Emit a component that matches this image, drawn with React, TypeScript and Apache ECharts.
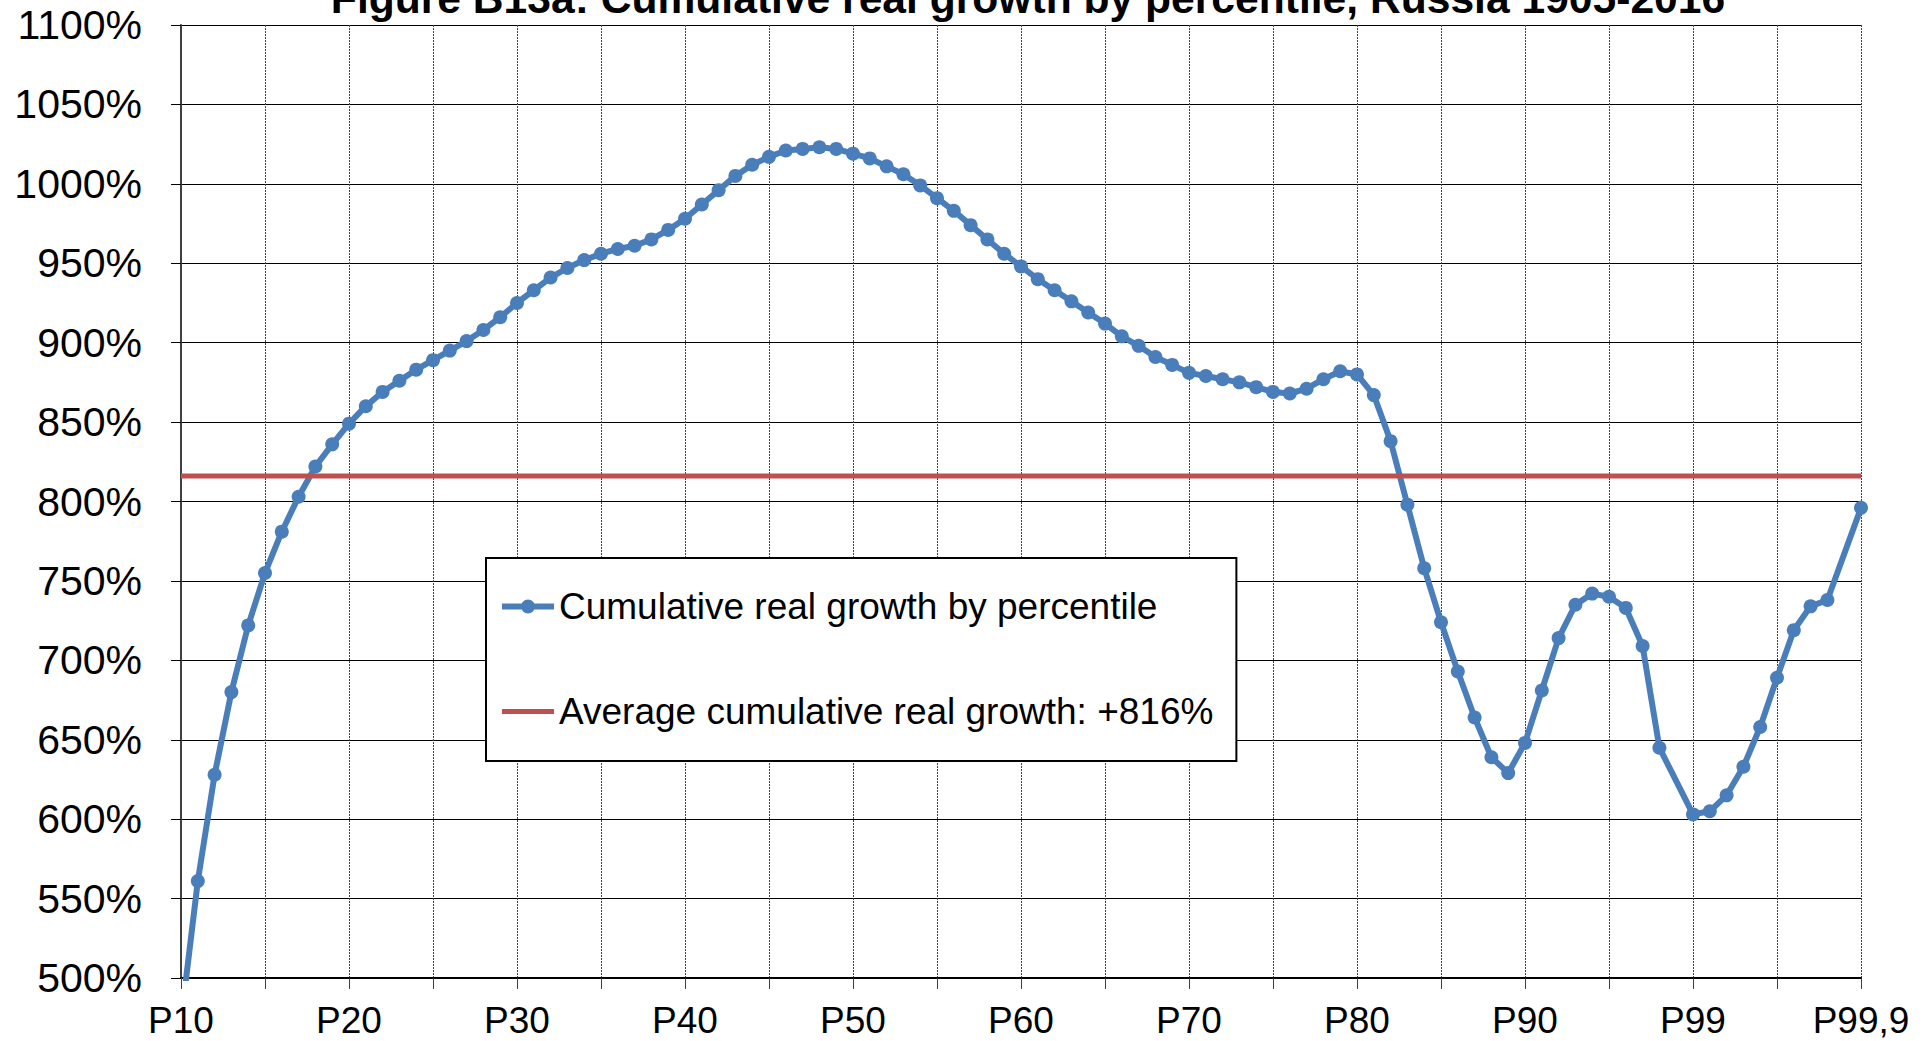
import React, { useEffect, useRef } from "react";
import * as echarts from "echarts";

const titleText = "Figure B13a: Cumulative real growth by percentile, Russia 1905-2016";

// Category axis: P10..P98, an empty slot, P99..P99,8, an empty slot, P99,9
const categories: string[] = [
  "P10", "P11", "P12", "P13", "P14", "P15", "P16", "P17", "P18", "P19",
  "P20", "P21", "P22", "P23", "P24", "P25", "P26", "P27", "P28", "P29",
  "P30", "P31", "P32", "P33", "P34", "P35", "P36", "P37", "P38", "P39",
  "P40", "P41", "P42", "P43", "P44", "P45", "P46", "P47", "P48", "P49",
  "P50", "P51", "P52", "P53", "P54", "P55", "P56", "P57", "P58", "P59",
  "P60", "P61", "P62", "P63", "P64", "P65", "P66", "P67", "P68", "P69",
  "P70", "P71", "P72", "P73", "P74", "P75", "P76", "P77", "P78", "P79",
  "P80", "P81", "P82", "P83", "P84", "P85", "P86", "P87", "P88", "P89",
  "P90", "P91", "P92", "P93", "P94", "P95", "P96", "P97", "P98", "",
  "P99", "P99,1", "P99,2", "P99,3", "P99,4", "P99,5", "P99,6", "P99,7", "P99,8", "",
  "P99,9",
];

// Cumulative real growth by percentile (%)
const growthByPercentile: (number | null)[] = [
  473, 561, 628, 680, 722, 755, 781, 803, 822, 836,
  849, 860, 869, 876, 883, 889, 895, 901, 908, 916,
  925, 933, 941, 947, 952, 956, 959, 961, 965, 971,
  978, 987, 996, 1005, 1012, 1017, 1021, 1022, 1023, 1022,
  1019, 1016, 1011, 1006, 999, 991, 983, 974, 965, 956,
  948, 940, 933, 926, 919, 912, 904, 898, 891, 886,
  881, 879, 877, 875, 872, 869, 868, 871, 877, 882,
  880, 867, 838, 798, 758, 724, 693, 664, 639, 629,
  648, 681, 714, 735, 742, 740, 733, 709, 645, null,
  603, 605, 615, 633, 658, 689, 719, 734, 738, null,
  796,
];

const averageGrowth = 816;
const averageSeries: number[] = categories.map(() => averageGrowth);

const seriesNames = [
  "Cumulative real growth by percentile",
  "Average cumulative real growth: +816%",
];

const yMin = 500;
const yMax = 1100;
const yStep = 50;

const FONT = "'Liberation Sans', Arial, Helvetica, sans-serif";

const ICON_LINE_MARKER =
  "path://M0,4 L52,4 L52,10 L0,10 Z M19,7 A7,7 0 1,1 33,7 A7,7 0 1,1 19,7 Z";
const ICON_LINE = "path://M0,0 L52,0 L52,5 L0,5 Z";

export default function App() {
  const ref = useRef<HTMLDivElement>(null);

  useEffect(() => {
    if (!ref.current) return;
    const chart = echarts.init(ref.current, undefined, { renderer: "svg" });
    chart.setOption({
      animation: false,
      backgroundColor: "#ffffff",
      textStyle: { fontFamily: FONT },
      graphic: [
        {
          type: "text",
          x: 1028,
          y: -2,
          z: 10,
          style: {
            text: titleText,
            fontFamily: FONT,
            fontWeight: "bold",
            fontSize: 42.6,
            fill: "#000",
            textAlign: "center",
            textVerticalAlign: "middle",
          },
        },
      ],
      grid: { left: 181, right: 69, top: 25, bottom: 63, containLabel: false },
      legend: {
        show: true,
        orient: "vertical",
        left: 486,
        top: 558,
        padding: [30, 23, 31, 16],
        itemGap: 68,
        itemWidth: 52,
        itemHeight: 14,
        symbolKeepAspect: true,
        backgroundColor: "#ffffff",
        borderColor: "#000000",
        borderWidth: 2,
        borderRadius: 0,
        itemStyle: { borderWidth: 0 },
        textStyle: { fontSize: 37, color: "#000", fontFamily: FONT },
        data: [
          { name: seriesNames[0], icon: ICON_LINE_MARKER },
          { name: seriesNames[1], icon: ICON_LINE },
        ],
      },
      xAxis: {
        type: "category",
        data: categories,
        boundaryGap: false,
        axisLine: { show: true, lineStyle: { color: "#000", width: 2 } },
        axisTick: { show: true, interval: 4, length: 11, lineStyle: { color: "#404040", width: 1 } },
        axisLabel: {
          interval: 9,
          fontSize: 37,
          color: "#000",
          fontFamily: FONT,
          margin: 24,
        },
        splitLine: {
          show: true,
          interval: 4,
          lineStyle: { color: "#444", width: 1, type: [2, 1] },
        },
      },
      yAxis: {
        type: "value",
        min: yMin,
        max: yMax,
        interval: yStep,
        axisLine: { show: true, lineStyle: { color: "#404040", width: 2 } },
        axisTick: { show: true, length: 10, lineStyle: { color: "#000", width: 1 } },
        axisLabel: {
          formatter: (v: number) => `${v}%`,
          fontSize: 41,
          color: "#000",
          fontFamily: FONT,
          margin: 39,
        },
        splitLine: { show: true, lineStyle: { color: "#000", width: 1 } },
      },
      series: [
        {
          name: seriesNames[0],
          type: "line",
          data: growthByPercentile,
          connectNulls: true,
          clip: true,
          symbol: "circle",
          symbolSize: 14,
          showSymbol: true,
          showAllSymbol: true,
          itemStyle: { color: "#4a7ebb" },
          lineStyle: { color: "#4a7ebb", width: 6 },
          emphasis: { disabled: true },
        },
        {
          name: seriesNames[1],
          type: "line",
          data: averageSeries,
          symbol: "none",
          showSymbol: false,
          itemStyle: { color: "#c0504d" },
          lineStyle: { color: "#c0504d", width: 5 },
          emphasis: { disabled: true },
        },
      ],
    });
    return () => chart.dispose();
  }, []);

  return (
    <div
      ref={ref}
      style={{ position: "fixed", left: 0, top: 0, width: "1930px", height: "1041px", background: "#fff" }}
    />
  );
}
